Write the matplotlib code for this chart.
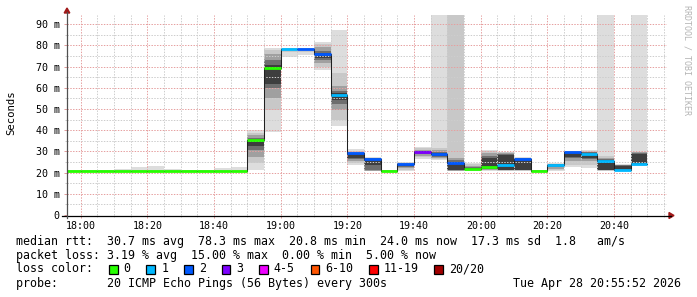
import numpy as np
import pandas as pd
import matplotlib
matplotlib.use("Agg")
import matplotlib.pyplot as plt
import matplotlib.dates as mdates
from matplotlib.lines import Line2D
from matplotlib.patches import Rectangle, Polygon
from matplotlib.ticker import MultipleLocator, FuncFormatter

# ---------------- data ----------------
interval_start = "2026-04-28 17:55"      # first 5-minute step
step_minutes = 5
window_start = "2026-04-28 17:55:52"
window_end = "2026-04-28 20:55:52"

INF = float("inf")

median_ms = [20.8, 20.8, 20.8, 20.8, 20.8, 20.8, 20.8, 20.8, 20.8, 20.8, 20.8,
             35.2, 69.1, 78.2, 78.2, 75.7, 56.4, 29.0, 26.4, 20.9, 23.9, 29.8,
             28.7, 24.7, 21.8, 22.8, 23.7, 26.5, 20.9, 23.7, 29.5, 28.7, 25.4,
             21.1, 24.0]

loss_count = [0, 0, 0, 0, 0, 0, 0, 0, 0, 0, 0,
              0, 0, 1, 2, 2, 1, 2, 2, 0, 2, 3,
              2, 2, 0, 0, 1, 2, 0, 1, 2, 1, 1,
              1, 1]

# smoke bands (outermost -> innermost): lower and upper edges in ms
smoke_lo = [
    [20.6, 20.7, 20.7, 20.8, 20.8], [20.6, 20.7, 20.7, 20.8, 20.8],
    [20.6, 20.7, 20.7, 20.8, 20.8], [20.6, 20.7, 20.7, 20.8, 20.8],
    [20.6, 20.7, 20.7, 20.8, 20.8], [20.6, 20.7, 20.7, 20.8, 20.8],
    [20.6, 20.7, 20.7, 20.8, 20.8], [20.6, 20.7, 20.7, 20.8, 20.8],
    [20.6, 20.7, 20.7, 20.8, 20.8], [20.6, 20.7, 20.7, 20.8, 20.8],
    [20.6, 20.7, 20.7, 20.8, 20.8],
    [21.0, 24.5, 27.5, 30.5, 32.5], [39.3, 49.5, 55.0, 60.0, 62.0],
    [74.6, 76.8, 77.8, 78.0, 78.1], [75.4, 77.0, 77.8, 78.0, 78.1],
    [68.3, 70.0, 71.5, 73.0, 74.0], [42.1, 44.8, 49.5, 52.5, 54.0],
    [23.6, 24.5, 25.6, 26.2, 27.0], [20.7, 20.8, 20.9, 21.0, 23.5],
    [20.7, 20.8, 20.8, 20.9, 20.9], [20.8, 21.3, 22.0, 22.8, 23.3],
    [26.5, 27.2, 28.0, 28.8, 29.3], [25.9, 26.5, 27.0, 27.5, 28.0],
    [20.7, 20.8, 20.9, 21.0, 21.2], [20.7, 20.9, 21.1, 21.3, 21.5],
    [20.8, 21.0, 21.2, 21.5, 21.8], [20.8, 20.9, 21.0, 21.2, 21.4],
    [20.8, 20.9, 21.0, 21.2, 21.4], [20.7, 20.8, 20.8, 20.9, 20.9],
    [20.8, 21.2, 21.8, 22.5, 23.0], [22.5, 23.6, 25.5, 26.7, 27.5],
    [22.0, 23.8, 25.3, 26.3, 27.0], [20.8, 20.9, 21.0, 21.2, 21.4],
    [20.8, 20.8, 20.9, 20.9, 21.0], [23.1, 23.4, 23.6, 23.8, 24.0],
]
smoke_hi = [
    [21.1, 21.0, 20.9, 20.9, 20.8], [21.1, 21.0, 20.9, 20.9, 20.8],
    [21.1, 21.0, 20.9, 20.9, 20.8], [21.8, 21.0, 20.9, 20.9, 20.8],
    [22.7, 21.2, 20.9, 20.9, 20.8], [23.3, 21.4, 20.9, 20.9, 20.8],
    [21.8, 21.0, 20.9, 20.9, 20.8], [21.1, 21.0, 20.9, 20.9, 20.8],
    [21.1, 21.0, 20.9, 20.9, 20.8], [22.2, 21.0, 20.9, 20.9, 20.8],
    [22.8, 21.2, 20.9, 20.9, 20.8],
    [40.1, 38.8, 37.5, 36.5, 35.8], [78.6, 77.8, 76.0, 73.0, 70.5],
    [78.8, 78.6, 78.5, 78.4, 78.3], [78.8, 78.6, 78.5, 78.4, 78.3],
    [81.5, 80.5, 79.0, 77.5, 76.5], [87.2, 66.8, 61.0, 58.5, 57.5],
    [31.1, 30.3, 29.8, 29.3, 29.0], [27.2, 27.0, 26.8, 26.7, 26.5],
    [21.1, 21.0, 21.0, 20.9, 20.9], [24.8, 24.5, 24.3, 24.2, 24.1],
    [32.2, 31.5, 30.8, 30.3, 30.0], [INF, 31.4, 30.5, 29.8, 29.3],
    [INF, INF, 27.0, 26.0, 25.2], [24.6, 24.0, 23.3, 22.7, 22.2],
    [30.8, 30.0, 29.0, 28.0, 27.0], [29.9, 29.5, 29.2, 28.8, 28.3],
    [27.3, 27.0, 26.8, 26.7, 26.6], [21.1, 21.0, 21.0, 20.9, 20.9],
    [24.4, 24.2, 24.0, 23.9, 23.8], [30.2, 30.0, 29.9, 29.8, 29.7],
    [30.6, 30.2, 29.8, 29.5, 29.2], [INF, 27.8, 26.8, 26.2, 25.8],
    [24.0, 23.8, 23.6, 23.4, 23.2], [INF, 29.8, 29.5, 29.2, 28.8],
]

loss_labels = ["0", "1", "2", "3", "4-5", "6-10", "11-19", "20/20"]
loss_upper = [0, 1, 2, 3, 5, 10, 19, 20]
loss_colors = ["#26ff00", "#00b8ff", "#0059ff", "#7e00ff", "#ee00ff",
               "#ff5500", "#ff0000", "#a10000"]
smoke_shades = ["#dddddd", "#c8c8c8", "#a0a0a0", "#6e6e6e", "#3e3e3e"]

y_top = 94.3
stats_lines = [
    "median rtt:  30.7 ms avg  78.3 ms max  20.8 ms min  24.0 ms now  17.3 ms sd  1.8   am/s",
    "packet loss: 3.19 % avg  15.00 % max  0.00 % min  5.00 % now",
]
probe_text = "probe:       20 ICMP Echo Pings (56 Bytes) every 300s"
date_text = "Tue Apr 28 20:55:52 2026"
y_title = "Seconds"
watermark = "RRDTOOL / TOBI OETIKER"

# ---------------- figure ----------------
MONO = "DejaVu Sans Mono"
W, H = 697, 297
fig = plt.figure(figsize=(W / 100, H / 100), dpi=100)
fig.patch.set_facecolor("white")
ax = fig.add_axes([67 / W, 1 - 215 / H, 600 / W, 200 / H])
ax.set_facecolor("white")

n = len(median_ms)
lefts_dt = pd.date_range(interval_start, periods=n, freq=f"{step_minutes}min")
lefts = mdates.date2num(lefts_dt.to_pydatetime())
width = step_minutes / 1440.0
rights = lefts + width

# smoke
for b in range(len(smoke_shades)):
    lo = np.array([row[b] for row in smoke_lo])
    hi = np.array([row[b] for row in smoke_hi])
    hi = np.minimum(hi, y_top * 3)
    ax.bar(lefts, hi - lo, bottom=lo, width=width, align="edge",
           color=smoke_shades[b], linewidth=0, zorder=1)

# dark median step line
xs = list(lefts) + [rights[-1]]
ys = list(median_ms) + [median_ms[-1]]
ax.step(xs, ys, where="post", color="#202020", lw=0.75, zorder=2.8)

# colored median segments by loss
def loss_color(c):
    for ub, col in zip(loss_upper, loss_colors):
        if c <= ub:
            return col
    return loss_colors[-1]

seg_colors = [loss_color(c) for c in loss_count]
ax.hlines(median_ms, lefts, rights, colors=seg_colors, lw=2.0, zorder=3,
          capstyle="butt")

# axes limits / ticks
ax.set_xlim(mdates.date2num(pd.Timestamp(window_start).to_pydatetime()),
            mdates.date2num(pd.Timestamp(window_end).to_pydatetime()))
ax.set_ylim(0, y_top)
ax.xaxis.set_major_locator(mdates.MinuteLocator(byminute=[0, 20, 40]))
ax.xaxis.set_minor_locator(mdates.MinuteLocator(byminute=range(0, 60, 5)))
ax.xaxis.set_major_formatter(mdates.DateFormatter("%H:%M"))
ax.yaxis.set_major_locator(MultipleLocator(10))
ax.yaxis.set_minor_locator(MultipleLocator(5))
ax.yaxis.set_major_formatter(FuncFormatter(lambda v, p: "0" if abs(v) < 1e-9 else f"{int(round(v))} m"))

ax.set_axisbelow(False)
ax.grid(True, which="minor", color="#cdcdcd", linestyle=(0, (1.4, 1.4)), lw=0.72)
ax.grid(True, which="major", color="#e6a0a0", linestyle=(0, (1.4, 1.4)), lw=0.72)

ax.tick_params(which="major", direction="out", length=2.2, width=0.7,
               color="#e09a9a", labelsize=7.2, labelcolor="black", pad=2)
ax.tick_params(which="minor", direction="out", length=1.6, width=0.7,
               color="#c8c8c8")
ax.tick_params(axis="y", which="major", pad=3.2)
for lab in ax.get_xticklabels() + ax.get_yticklabels():
    lab.set_fontfamily(MONO)

for s in ax.spines.values():
    s.set_visible(False)

def fx(x):
    return x / W

def fy(y):
    return 1 - y / H

# axis lines with arrows
fig.add_artist(Line2D([fx(62), fx(671)], [fy(215.5), fy(215.5)], color="black", lw=0.9))
fig.add_artist(Line2D([fx(67), fx(67)], [fy(218), fy(12)], color="#505050", lw=0.9))
fig.add_artist(Polygon([[fx(669), fy(212.5)], [fx(669), fy(218.5)], [fx(674), fy(215.5)]],
                       closed=True, color="#a01818", transform=fig.transFigure))
fig.add_artist(Polygon([[fx(64.2), fy(13)], [fx(69.8), fy(13)], [fx(67), fy(8)]],
                       closed=True, color="#a01818", transform=fig.transFigure))

# y title & watermark
fig.text(fx(11), fy(113), y_title, rotation=90, ha="center", va="center",
         fontsize=7.7, family=MONO, color="black")
fig.text(fx(687), fy(60), watermark, rotation=-90, ha="center", va="center",
         fontsize=6.0, family=MONO, color="#b4b4b4")

# legend text
LEG_FS = 8.35
fig.text(fx(16), fy(241), stats_lines[0], ha="left", va="center", fontsize=LEG_FS, family=MONO)
fig.text(fx(16), fy(255), stats_lines[1], ha="left", va="center", fontsize=LEG_FS, family=MONO)
fig.text(fx(16), fy(269), "loss color:", ha="left", va="center", fontsize=LEG_FS, family=MONO)
char_w = 6.95
label_x = 123.7
for lab, col in zip(loss_labels, loss_colors):
    sw_x = label_x - 14.8
    fig.add_artist(Rectangle((fx(sw_x), fy(273.8)), 8.8 / W, 9.0 / H,
                             facecolor=col, edgecolor="black", lw=0.9,
                             transform=fig.transFigure))
    fig.text(fx(label_x), fy(269), lab, ha="left", va="center", fontsize=LEG_FS, family=MONO)
    label_x = label_x + len(lab) * char_w + 15.8 + 14.8
fig.text(fx(16), fy(283), probe_text, ha="left", va="center", fontsize=LEG_FS, family=MONO)
fig.text(fx(681), fy(283), date_text, ha="right", va="center", fontsize=LEG_FS, family=MONO)

fig.savefig("out.png", dpi=100, facecolor="white")
